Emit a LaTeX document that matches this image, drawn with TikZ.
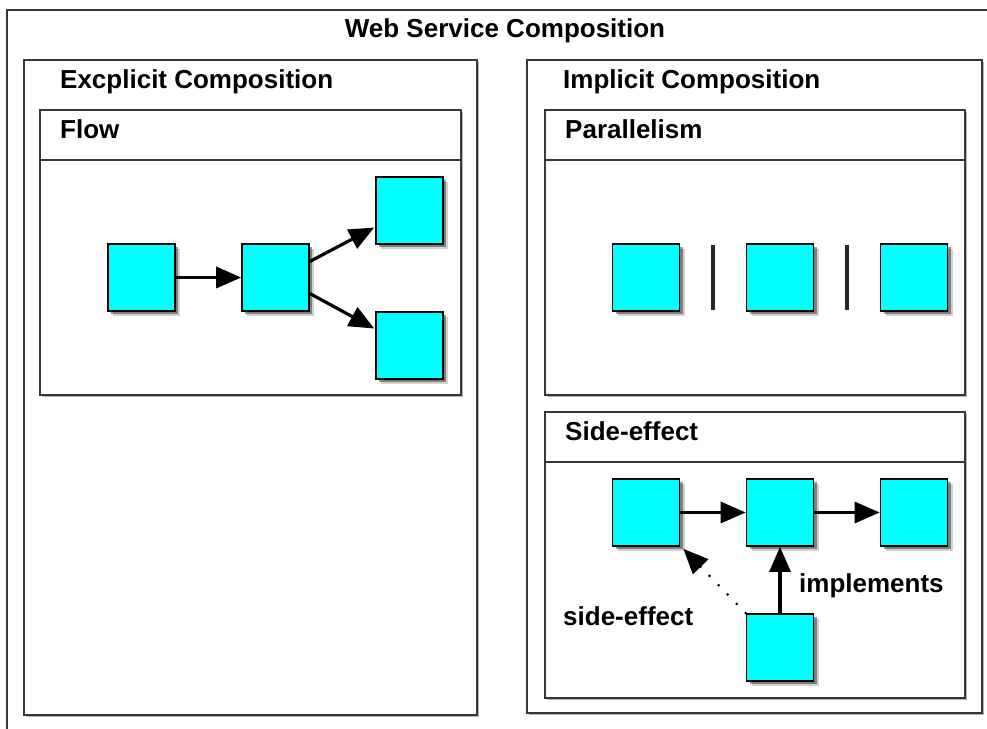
\documentclass[tikz,border=0pt]{standalone}
\usepackage{fontspec}
\setmainfont{Liberation Sans}
\usetikzlibrary{arrows.meta,shadows,calc}
\definecolor{boxcyan}{RGB}{0,255,255}
\definecolor{framegray}{RGB}{55,55,55}
\begin{document}
\begin{tikzpicture}[x=1pt,y=-1pt,
  frame/.style={draw=framegray, line width=1.6pt, fill=white,
    drop shadow={shadow xshift=1.5pt, shadow yshift=-1.5pt, opacity=0.3, fill=black}},
  hline/.style={draw=framegray, line width=1.6pt},
  sq/.style={draw=black, line width=1.6pt, fill=boxcyan, minimum width=67pt,
    minimum height=67pt, inner sep=0pt,
    drop shadow={shadow xshift=5pt, shadow yshift=-5pt, opacity=0.18, fill=black},
    drop shadow={shadow xshift=3pt, shadow yshift=-3pt, opacity=0.4, fill=black}},
  lbl/.style={font=\fontsize{26}{30}\selectfont\bfseries, anchor=base west, inner sep=0pt},
  arr/.style={line width=3.2pt, -{Triangle[length=25pt,width=21pt]}},
  bar/.style={line width=3.4pt, draw=black!85},
  dots/.style={line width=3pt, line cap=round, dash pattern=on 0pt off 13pt,
    -{Triangle[length=25pt,width=21pt]}}
]
\useasboundingbox (0,0) rectangle (987,728);
\fill[white] (0,0) rectangle (987,728);
% outer frame
\draw[hline] (7,10) rectangle (1000,745);
\node[lbl, anchor=base] (title) at (505,37) {Web Service Composition};

% left panel
\path[frame] (24,60) rectangle (477,715);
\node[lbl] (expl) at (60,88) {Excplicit Composition};
\path[frame] (40,110) rectangle (461,395);
\draw[hline] (40,160) -- (461,160);
\node[lbl] (flow) at (60,138) {Flow};

% right panel
\path[frame] (527,60) rectangle (982,713);
\node[lbl] (impl) at (563,88) {Implicit Composition};
\path[frame] (545,110) rectangle (965,395);
\draw[hline] (545,160) -- (965,160);
\node[lbl] (par) at (565,138) {Parallelism};
\path[frame] (545,412) rectangle (965,698);
\draw[hline] (545,462) -- (965,462);
\node[lbl] (se) at (565,440) {Side-effect};

% flow squares
\node[sq] (s1) at (141.5,277.5) {};
\node[sq] (s2) at (275.5,277.5) {};
\node[sq] (s3) at (409.5,210.5) {};
\node[sq] (s4) at (409.5,345.5) {};
\draw[arr] (s1) -- (s2);
\draw[arr] ($(s2.east)+(0,-16)$) -- ($(s3.west)+(-1,17)$);
\draw[arr] ($(s2.east)+(0,16)$) -- ($(s4.west)+(-1,-17)$);

% parallelism
\node[sq] (p1) at (646,277.5) {};
\node[sq] (p2) at (780,277.5) {};
\node[sq] (p3) at (914,277.5) {};
\coordinate (b1t) at (713,245); \coordinate (b1b) at (713,310);
\coordinate (b2t) at (847,245); \coordinate (b2b) at (847,310);
\draw[bar] (b1t) -- (b1b);
\draw[bar] (b2t) -- (b2b);

% side-effect
\node[sq] (a) at (646,512.5) {};
\node[sq] (b) at (780,512.5) {};
\node[sq] (c) at (914,512.5) {};
\node[sq] (d) at (780,647.5) {};
\draw[arr] (a) -- (b);
\draw[arr] (b) -- (c);
\draw[arr] (d) -- (b);
\draw[dots] (d.north west) -- ($(a.south east)+(3,2)$);
\node[lbl] (implements) at (799,592) {implements};
\node[lbl] (sideeffect) at (563,625) {side-effect};
\end{tikzpicture}
\end{document}
